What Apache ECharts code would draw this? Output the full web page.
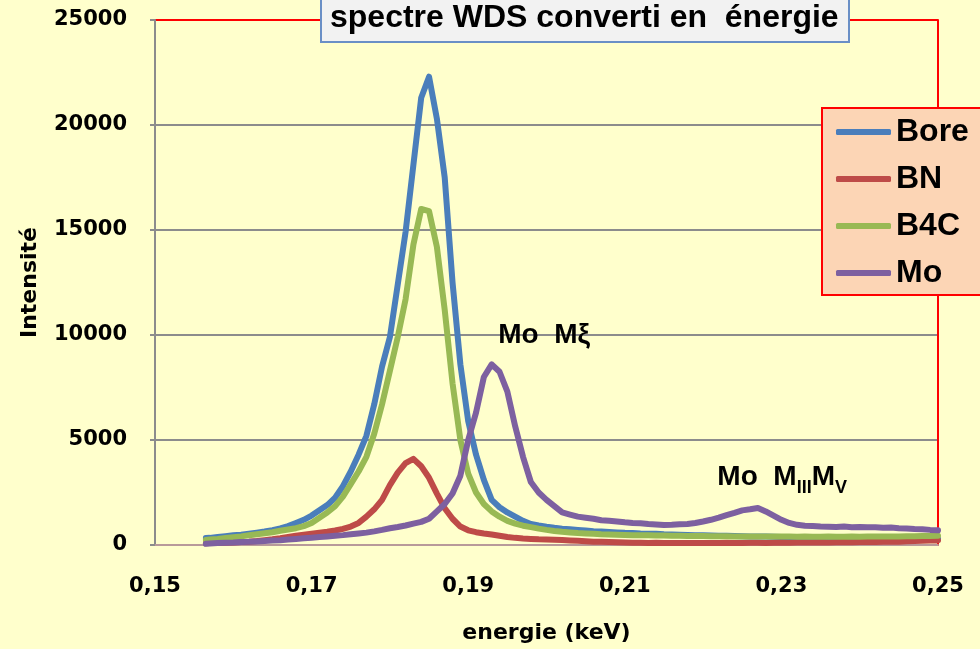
<!DOCTYPE html>
<html>
<head>
<meta charset="utf-8">
<script src="https://cdn.jsdelivr.net/npm/echarts@6/dist/echarts.min.js"></script>
<style>html,body{margin:0;padding:0;background:#FFFFCC;}#c{width:980px;height:649px;}</style>
</head>
<body>
<div id="c"></div>
<script>
const energy = [0.1565,
 0.157,0.158,0.159,0.160,0.161,0.162,0.163,0.164,0.165,0.166,
 0.167,0.168,0.169,0.170,0.171,0.172,0.173,0.174,0.175,0.176,
 0.177,0.178,0.179,0.180,0.181,0.182,0.183,0.184,0.185,0.186,
 0.187,0.188,0.189,0.190,0.191,0.192,0.193,0.194,0.195,0.196,
 0.197,0.198,0.199,0.200,0.201,0.202,0.203,0.204,0.205,0.206,
 0.207,0.208,0.209,0.210,0.211,0.212,0.213,0.214,0.215,0.216,
 0.217,0.218,0.219,0.220,0.221,0.222,0.223,0.224,0.225,0.226,
 0.227,0.228,0.229,0.230,0.231,0.232,0.233,0.234,0.235,0.236,
 0.237,0.238,0.239,0.240,0.241,0.242,0.243,0.244,0.245,0.246,
 0.247,0.248,0.249,0.250];

const bore = [330,
 340,380,420,460,490,540,590,640,710,790,
 900,1050,1200,1400,1650,1900,2250,2800,3500,4300,
 5200,6700,8500,9900,12400,14900,18100,21300,22300,20300,
 17500,12500,8600,5900,4300,3100,2150,1800,1550,1350,
 1150,1000,930,870,820,780,750,720,690,660,
 640,620,600,580,570,550,540,530,510,500,
 490,480,470,460,450,440,440,430,420,410,
 400,400,390,380,380,370,370,360,360,350,
 350,340,340,330,330,330,320,320,320,310,
 310,300,300,300];

const bn = [80,
 90,100,110,120,140,160,190,230,270,320,
 380,440,490,540,590,630,690,770,880,1050,
 1350,1700,2150,2850,3450,3900,4100,3750,3200,2450,
 1750,1250,880,700,610,550,500,440,380,340,
 310,290,270,260,250,240,220,200,180,160,
 150,140,130,120,110,110,100,110,100,100,
 90,100,100,90,100,100,110,100,100,110,
 110,100,110,120,110,120,120,120,130,120,
 130,140,130,140,150,140,160,170,160,180,
 190,200,210,220];

const b4c = [240,
 260,290,330,370,410,460,510,560,610,680,
 740,800,900,1050,1300,1550,1850,2300,2900,3500,
 4200,5300,6700,8300,9900,11700,14300,16000,15900,14200,
 11200,7700,5000,3400,2500,1950,1600,1350,1150,1020,
 920,850,780,720,670,630,600,570,550,530,
 510,500,490,480,470,470,460,450,450,440,
 440,430,430,430,420,420,420,410,410,410,
 400,410,400,400,400,390,400,390,390,400,
 390,390,400,390,400,400,410,400,410,420,
 420,430,430,440];

const mo = [60,
 70,90,110,120,140,150,170,190,210,230,
 260,290,320,350,380,410,440,470,510,550,
 590,650,720,800,860,930,1020,1100,1250,1600,
 1950,2450,3300,5000,6300,8000,8600,8250,7300,5650,
 4200,3000,2500,2150,1850,1550,1450,1350,1300,1250,
 1180,1150,1120,1080,1050,1040,1000,980,950,960,
 990,1000,1050,1120,1200,1300,1420,1530,1650,1700,
 1760,1600,1400,1200,1050,960,920,900,880,870,
 860,880,850,860,840,850,820,830,800,780,
 760,750,720,700];

const seriesNames = ['Bore', 'BN', 'B4C', 'Mo'];
const seriesValues = [bore, bn, b4c, mo];
const seriesColors = ['#4A7EBB', '#BE4B48', '#98B954', '#7D60A0'];
const xTicks = {min: 0.15, max: 0.25, step: 0.02};
const yTicks = {min: 0, max: 25000, step: 5000};

const chart = echarts.init(document.getElementById('c'), null, {renderer: 'canvas'});
const axisFont = {fontFamily: 'DejaVu Sans', fontWeight: 'bold', fontSize: 21, color: '#000'};
const option = {
  backgroundColor: '#FFFFCC',
  animation: false,
  title: {
    text: 'spectre WDS converti en  énergie',
    left: 321, top: -8,
    padding: [8, 11, 6, 9],
    backgroundColor: '#F2F2F2',
    borderColor: '#6A8FC6', borderWidth: 2,
    textStyle: {fontFamily: 'Liberation Sans', fontWeight: 'bold', fontSize: 32, lineHeight: 36, color: '#000'}
  },
  legend: {
    data: seriesNames,
    orient: 'vertical',
    left: 822, top: 108,
    padding: [6, 20, 4, 14],
    itemGap: 11, itemWidth: 55, itemHeight: 6,
    icon: 'roundRect',
    backgroundColor: '#FCD5B5', borderColor: '#FF0000', borderWidth: 2,
    textStyle: {fontFamily: 'Liberation Sans', fontWeight: 'bold', fontSize: 32, lineHeight: 36, color: '#000'}
  },
  grid: {left: 155, right: 42, top: 20, bottom: 104, containLabel: false, outerBoundsMode: 'none'},
  xAxis: {
    type: 'value', min: xTicks.min, max: xTicks.max, interval: xTicks.step,
    axisLine: {lineStyle: {color: '#B89A9A', width: 2}},
    axisTick: {show: false},
    splitLine: {show: false},
    axisLabel: Object.assign({margin: 31, formatter: v => v.toFixed(2).replace('.', ',')}, axisFont),
    name: 'energie (keV)', nameLocation: 'middle', nameGap: 77,
    nameTextStyle: {fontFamily: 'DejaVu Sans', fontWeight: 'bold', fontSize: 22, color: '#000'}
  },
  yAxis: [{
    type: 'value', min: yTicks.min, max: yTicks.max, interval: yTicks.step,
    axisLine: {show: true, lineStyle: {color: '#8C8C8C', width: 2}},
    axisTick: {show: true, length: 5, lineStyle: {color: '#8C8C8C', width: 2}},
    splitLine: {lineStyle: {color: ['#8C8C8C', '#8C8C8C', '#8C8C8C', '#8C8C8C', '#8C8C8C', '#FF0000'], width: 2}},
    axisLabel: Object.assign({margin: 28, formatter: v => String(v)}, axisFont),
    name: 'Intensité', nameLocation: 'middle', nameGap: 114, nameRotate: 90,
    nameTextStyle: {fontFamily: 'DejaVu Sans', fontWeight: 'bold', fontSize: 22, color: '#000'}
  }, {
    type: 'value', position: 'right', min: yTicks.min, max: yTicks.max, interval: yTicks.step,
    axisLine: {show: true, lineStyle: {color: '#FF0000', width: 2}},
    axisTick: {show: false}, axisLabel: {show: false}, splitLine: {show: false}
  }],
  series: seriesNames.map((n, k) => ({
    name: n, type: 'line', showSymbol: false, symbol: 'none',
    yAxisIndex: 0,
    data: energy.map((e, i) => [e, seriesValues[k][i]]),
    lineStyle: {color: seriesColors[k], width: 6, cap: 'round', join: 'round'},
    itemStyle: {color: seriesColors[k]}
  }))
};
chart.setOption(option);

const p1 = chart.convertToPixel({gridIndex: 0}, [0.1997, 10000]);
const p2 = chart.convertToPixel({gridIndex: 0}, [0.2301, 3900]);
chart.setOption({
  graphic: [{
    type: 'text', x: p1[0], y: p1[1], z: 20,
    style: {text: 'Mo  Mξ', fontFamily: 'Liberation Sans', fontWeight: 'bold', fontSize: 28, fill: '#000', align: 'center', verticalAlign: 'middle'}
  }, {
    type: 'text', x: p2[0], y: p2[1], z: 20,
    style: {
      text: '{a|Mo  M}{s|III}{a|M}{s|V}',
      align: 'center', verticalAlign: 'top', fill: '#000',
      rich: {
        a: {fontFamily: 'Liberation Sans', fontWeight: 'bold', fontSize: 28, lineHeight: 28, verticalAlign: 'top', fill: '#000'},
        s: {fontFamily: 'Liberation Sans', fontWeight: 'bold', fontSize: 18, lineHeight: 18, padding: [16, 0, 0, 0], verticalAlign: 'top', fill: '#000'}
      }
    }
  }]
});
</script>
</body>
</html>
